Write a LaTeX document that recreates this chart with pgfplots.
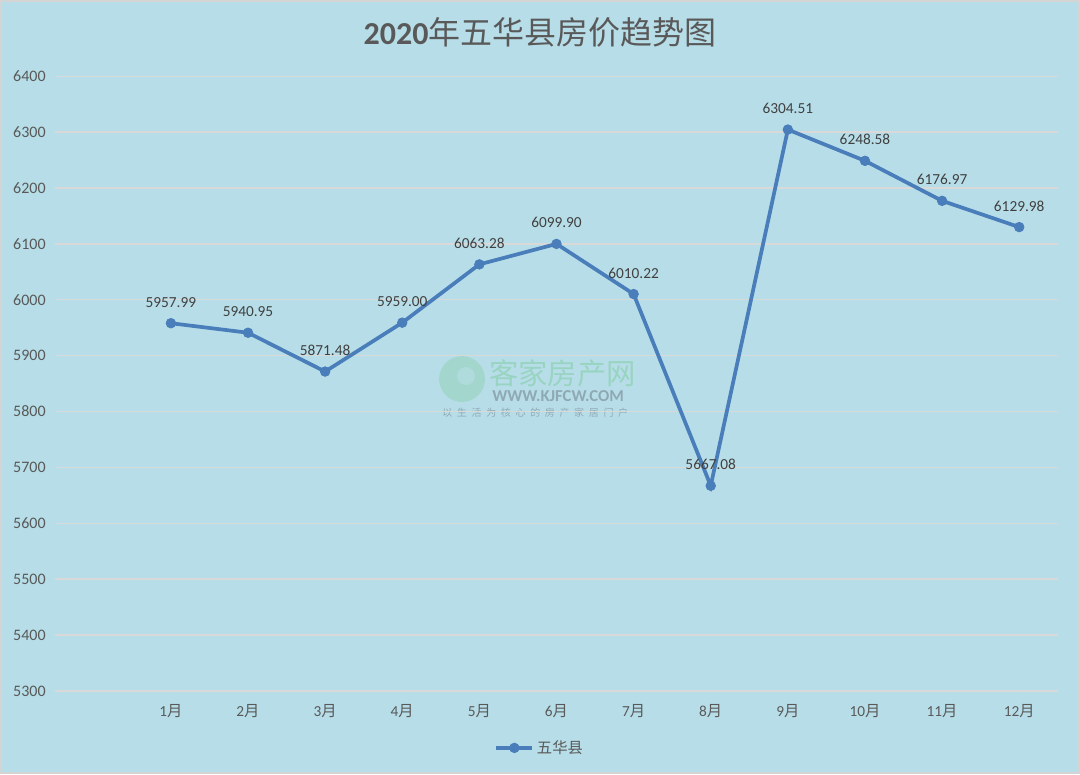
\documentclass[border=0pt]{standalone}
\usepackage{pgfplots}
\pgfplotsset{compat=1.18}
\usepackage{fontspec}
\setmainfont{Carlito}
\newfontfamily\cjk{Noto Sans CJK SC}
\definecolor{bg}{HTML}{B7DEE8}
\definecolor{gridc}{HTML}{D9D9D9}
\definecolor{txt}{HTML}{595959}
\definecolor{lbl}{HTML}{404040}
\definecolor{linec}{HTML}{4A7EBB}
\definecolor{frame}{HTML}{D4D4D4}
\definecolor{wmg}{HTML}{96D3BE}
\definecolor{wmt}{HTML}{8FA9B4}
\begin{document}
\begin{tikzpicture}[x=0.75pt,y=0.75pt]
\fill[bg] (0,0) rectangle (1080,774);
\draw[frame,line width=1.5pt] (0.75,0.75) rectangle (1079.25,773.25);
\useasboundingbox (0,0) rectangle (1080,774);
% title
\node[text=txt,anchor=base] at (540,774-44) {\fontsize{24pt}{28pt}\selectfont\textbf{2020}{\cjk 年五华县房价趋势图}};
% watermark
\fill[wmg,opacity=0.6] (462,774-379) circle (23);
\fill[bg,opacity=0.6] (466,774-376) circle (9);
\node[anchor=base west,text=wmg,opacity=0.9,inner sep=0pt] at (489,774-384) {\cjk\fontsize{22pt}{24pt}\selectfont 客家房产网};
\node[anchor=base west,text=wmt,inner sep=0pt] at (492,774-401) {\fontsize{12.5pt}{13pt}\selectfont\bfseries WWW.KJFCW.COM};
\node[anchor=base west,text=wmt,inner sep=0pt] at (442,774-416) {\cjk\fontsize{7.5pt}{8pt}\selectfont 以\hspace{3.5pt}生\hspace{3.5pt}活\hspace{3.5pt}为\hspace{3.5pt}核\hspace{3.5pt}心\hspace{3.5pt}的\hspace{3.5pt}房\hspace{3.5pt}产\hspace{3.5pt}家\hspace{3.5pt}居\hspace{3.5pt}门\hspace{3.5pt}户};
\begin{axis}[
  at={(41.25pt,62.25pt)}, anchor=south west,
  scale only axis, width=752.25pt, height=461.25pt,
  xmin=-0.5, xmax=12.5, ymin=5300, ymax=6400,
  xtick={1,...,12},
  xticklabels={1{\cjk 月},2{\cjk 月},3{\cjk 月},4{\cjk 月},5{\cjk 月},6{\cjk 月},7{\cjk 月},8{\cjk 月},9{\cjk 月},10{\cjk 月},11{\cjk 月},12{\cjk 月}},
  ytick={5300,5400,...,6400},
  major tick length=0pt,
  axis line style={draw=none},
  ymajorgrids, grid style={gridc,line width=1pt},
  /pgf/number format/assume math mode=true,
  yticklabel style={/pgf/number format/1000 sep={}, anchor=east, inner sep=0pt, xshift=-7pt, text=txt, font=\fontsize{12pt}{14pt}\selectfont},
  xticklabel style={anchor=base, inner sep=0pt, yshift=-19pt, text=txt, font=\fontsize{11.5pt}{14pt}\selectfont},
  clip=false,
  nodes near coords,
  nodes near coords style={/pgf/number format/.cd, fixed, fixed zerofill, precision=2, 1000 sep={}, assume math mode=true, /tikz/.cd, anchor=base, inner sep=0pt, yshift=12pt, text=lbl, font=\fontsize{11.5pt}{14pt}\selectfont},
  legend style={at={(0.4836,-0.0927)}, anchor=center, draw=none, fill=none, font=\cjk\fontsize{11.5pt}{14pt}\selectfont, text=txt},
  legend image code/.code={\draw[#1,mark repeat=2,mark phase=2] plot coordinates {(0cm,0cm)(0.475cm,0cm)(0.95cm,0cm)};},
]
\addplot[linec, line width=2.8pt, mark=*, mark size=3.6pt, mark options={solid,fill=linec,draw=linec,line width=0.6pt}] coordinates {
(1,5957.99) (2,5940.95) (3,5871.48) (4,5959.00) (5,6063.28) (6,6099.90)
(7,6010.22) (8,5667.08) (9,6304.51) (10,6248.58) (11,6176.97) (12,6129.98)};
\addlegendentry{五华县}
\end{axis}
\end{tikzpicture}
\end{document}
